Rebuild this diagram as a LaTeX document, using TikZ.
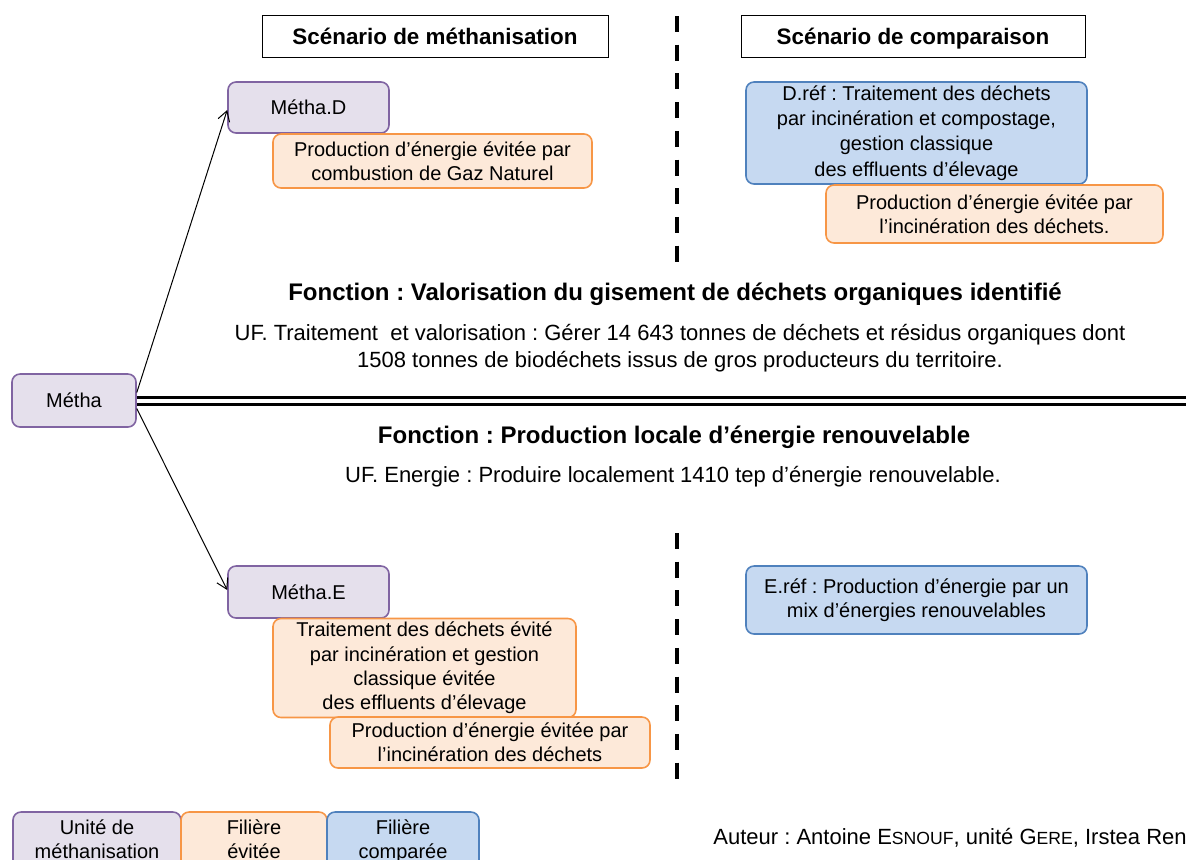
\documentclass[tikz,border=0pt]{standalone}
\usepackage{fontspec}
\setmainfont{Liberation Sans}
\usetikzlibrary{arrows.meta}
\definecolor{purfill}{HTML}{E5E0EC}
\definecolor{purdraw}{HTML}{8064A2}
\definecolor{orfill}{HTML}{FDE9D9}
\definecolor{ordraw}{HTML}{F79646}
\definecolor{blfill}{HTML}{C6D9F1}
\definecolor{bldraw}{HTML}{4F81BD}
\tikzset{
  base/.style={rounded corners=4pt, line width=0.8pt, inner sep=0pt, align=center,
    font=\fontsize{10}{12.2}\selectfont},
  purbox/.style={base, draw=purdraw, fill=purfill},
  orbox/.style={base, draw=ordraw, fill=orfill},
  blbox/.style={base, draw=bldraw, fill=blfill},
  legbox/.style={text depth=2.6pt},
  headbox/.style={draw=black, fill=white, line width=0.5pt, inner sep=0pt,
    text height=11pt, text depth=2.4pt,
    font=\fontsize{11.2}{13}\selectfont\bfseries},
  sep/.style={line width=1.6pt, dash pattern=on 8pt off 6.35pt},
  txt/.style={align=center, inner sep=0pt, font=\fontsize{11}{13.5}\selectfont},
  btxt/.style={align=center, inner sep=0pt, font=\fontsize{12}{14}\selectfont\bfseries},
  arr/.style={-{Straight Barb[length=5pt,width=6pt]}, line width=0.5pt}
}
\begin{document}
\frenchspacing
\begin{tikzpicture}[x=0.5pt,y=-0.5pt]
\useasboundingbox (0,0) rectangle (1186,859);
% headers
\node[headbox, minimum width=173pt, minimum height=21pt] (h1) at (435,36) {Scénario de méthanisation};
\node[headbox, minimum width=172pt, minimum height=21pt] (h2) at (913,36) {Scénario de comparaison};
% dashed separators
\coordinate (d1a) at (677,16);
\coordinate (d1b) at (677,262);
\coordinate (d2a) at (677,533);
\coordinate (d2b) at (677,779);
\draw[sep] (d1a) -- (d1b);
\draw[sep] (d2a) -- (d2b);
% top scenario
\node[purbox, minimum width=80.5pt, minimum height=25.5pt] (md) at (308.5,107.5) {Métha.D};
\node[orbox, minimum width=159.5pt, minimum height=27pt] (od) at (432.5,161) {Production d’énergie évitée par\\combustion de Gaz Naturel};
\node[blbox, minimum width=170.5pt, minimum height=51pt, font=\fontsize{10}{12.6}\selectfont] (dref) at (916.5,133) {D.réf : Traitement des déchets\\par incinération et compostage,\\gestion classique\\des effluents d’élevage};
\node[orbox, minimum width=168.5pt, minimum height=29pt] (odref) at (994.5,214) {Production d’énergie évitée par\\l’incinération des déchets.};
% functions
\node[btxt] (f1) at (675,294) {Fonction : Valorisation du gisement de déchets organiques identifié};
\node[txt] (uf1) at (680,348.5) {UF. Traitement \ et valorisation : Gérer 14 643 tonnes de déchets et résidus organiques dont\\1508 tonnes de biodéchets issus de gros producteurs du territoire.};
\node[btxt] (f2) at (674,437) {Fonction : Production locale d’énergie renouvelable};
\node[txt] (uf2) at (673,477) {UF. Energie : Produire localement 1410 tep d’énergie renouvelable.};
% metha
\node[purbox, minimum width=62pt, minimum height=26.5pt] (m) at (74,400.5) {Métha};
\coordinate (dlend) at (1190,400.8);
\draw[line width=1.5pt, double=white, double distance=2pt] (m.east |- dlend) -- (dlend);
% bottom scenario
\node[purbox, minimum width=80.5pt, minimum height=26pt] (me) at (308.5,592) {Métha.E};
\node[orbox, minimum width=151.5pt, minimum height=49.5pt] (oe1) at (424.5,668) {Traitement des déchets évité\\par incinération et gestion\\classique évitée\\des effluents d’élevage};
\node[orbox, minimum width=160pt, minimum height=25.5pt] (oe2) at (490,742.5) {Production d’énergie évitée par\\l’incinération des déchets};
\node[blbox, minimum width=170.5pt, minimum height=34pt] (eref) at (916.5,600) {E.réf : Production d’énergie par un\\mix d’énergies renouvelables};
% arrows
\draw[arr] ([yshift=4pt]m.east) -- (md.west |- 0,110);
\draw[arr] ([yshift=-4pt]m.east) -- (me.west |- 0,590);
% legend
\node[purbox, legbox, minimum width=84pt, minimum height=29.5pt] (l1) at (97,841.5) {Unité de\\méthanisation};
\node[orbox, legbox, minimum width=73pt, minimum height=29.5pt] (l2) at (254,841.5) {Filière\\évitée};
\node[blbox, legbox, minimum width=76pt, minimum height=29.5pt] (l3) at (403,841.5) {Filière\\comparée};
\node[txt, anchor=west] (auth) at (713,838) {Auteur : Antoine E{\fontsize{8.8}{10}\selectfont SNOUF}, unité G{\fontsize{8.8}{10}\selectfont ERE}, Irstea Rennes};
\end{tikzpicture}
\end{document}
